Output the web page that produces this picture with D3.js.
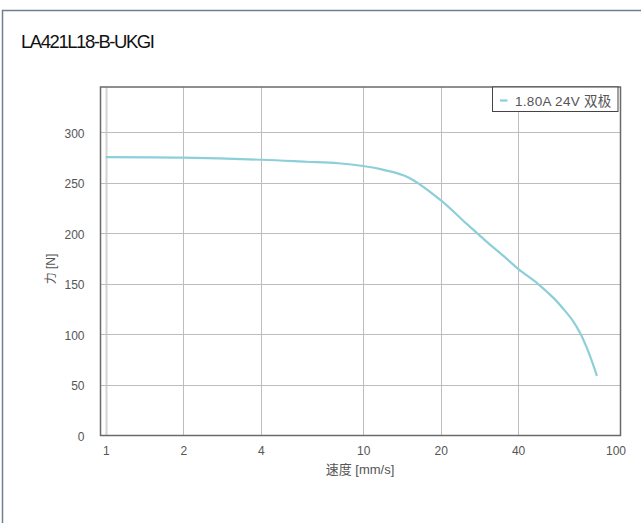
<!DOCTYPE html>
<html>
<head>
<meta charset="utf-8">
<script src="https://cdn.jsdelivr.net/npm/d3@7/dist/d3.min.js"></script>
<style>
  html, body { margin: 0; padding: 0; background: #fff; }
  svg { display: block; font-family: "Liberation Sans", Arial, "Noto Sans CJK SC", sans-serif; }
</style>
</head>
<body>
<svg id="chart" width="641" height="523"></svg>
<script>
const title = "LA421L18-B-UKGI";
const seriesName = "1.80A 24V 双极";
const xLabel = "速度 [mm/s]";
const yLabel = "力 [N]";
const speeds = [1, 2, 4, 6, 8, 10, 12, 15, 20, 25, 30, 35, 40, 48, 55, 60, 65, 70, 75, 81];
const forces = [275.5, 275, 273, 271, 269.5, 266.8, 263, 255.5, 233, 210.5, 192.5, 178, 165, 149.7, 136, 125.3, 114.2, 100.5, 83, 59];
const xTicks = [1, 2, 4, 10, 20, 40, 100];
const yTicks = [0, 50, 100, 150, 200, 250, 300];

const svg = d3.select("#chart");
const L = 100.5, R = 620.5, T = 87, B = 435.5;

// outer frame
svg.append("rect").attr("x", 2.5).attr("y", 10.5).attr("width", 700).attr("height", 700)
  .attr("fill", "none").attr("stroke", "#6f7f8f").attr("stroke-width", 1.5);

svg.append("text").attr("x", 21).attr("y", 48).text(title)
  .attr("font-size", 18.5).attr("letter-spacing", -1.45).attr("fill", "#111");

const x = d3.scaleLog().domain([0.953, 100]).range([L, R]);
const y = d3.scaleLinear().domain([0, 345]).range([B, T]);

const grid = svg.append("g");
grid.selectAll(".vg").data(xTicks.filter(d => d < 100)).join("line")
  .attr("x1", d => Math.round(x(d)) + 0.5).attr("x2", d => Math.round(x(d)) + 0.5)
  .attr("y1", T).attr("y2", B)
  .attr("stroke", d => d === 1 ? "#d4d4d4" : "#bdbdbd").attr("stroke-width", d => d === 1 ? 2 : 1);
grid.selectAll(".hg").data(yTicks.filter(d => d > 0)).join("line")
  .attr("x1", L).attr("x2", R)
  .attr("y1", d => Math.round(y(d)) + 0.5).attr("y2", d => Math.round(y(d)) + 0.5)
  .attr("stroke", "#bdbdbd").attr("stroke-width", 1);

// axes via d3 (labels only)
const xAxis = d3.axisBottom(x).tickValues(xTicks).tickFormat(d3.format("d")).tickSize(0).tickPadding(11);
const gx = svg.append("g").attr("transform", `translate(0,${B})`).call(xAxis);
gx.select(".domain").remove();
gx.selectAll("text").attr("font-size", 12).attr("fill", "#555")
  .attr("font-family", "'Liberation Sans', Arial, sans-serif")
  .attr("dx", d => d === 100 ? -5 : 0);

const yAxis = d3.axisLeft(y).tickValues(yTicks).tickSize(0).tickPadding(16);
const gy = svg.append("g").attr("transform", `translate(${L},0)`).call(yAxis);
gy.select(".domain").remove();
gy.selectAll("text").attr("font-size", 12).attr("fill", "#555")
  .attr("font-family", "'Liberation Sans', Arial, sans-serif").attr("dy", "0.4em");

// plot frame
svg.append("rect").attr("x", L).attr("y", T).attr("width", R - L).attr("height", B - T)
  .attr("fill", "none").attr("stroke", "#6a6a6a").attr("stroke-width", 1.5);

// curve
const pts = speeds.map((s, i) => [s, forces[i]]);
svg.append("path").datum(pts)
  .attr("d", d3.line().x(d => x(d[0])).y(d => y(d[1])).curve(d3.curveCatmullRom.alpha(0.5)))
  .attr("fill", "none").attr("stroke", "#8dcfd9").attr("stroke-width", 2.2);

// legend
const lg = svg.append("g");
lg.append("rect").attr("x", 492.5).attr("y", T).attr("width", 125.5).attr("height", 24.5)
  .attr("fill", "#fff").attr("stroke", "#444").attr("stroke-width", 1);
lg.append("line").attr("x1", 500).attr("x2", 507.5).attr("y1", 100.5).attr("y2", 100.5)
  .attr("stroke", "#8dcfd9").attr("stroke-width", 2.2);
lg.append("text").attr("x", 515).attr("y", 105.5).text(seriesName)
  .attr("font-size", 13.5).attr("letter-spacing", 0.3).attr("fill", "#555");

// axis titles
svg.append("text").attr("x", 360).attr("y", 474).attr("text-anchor", "middle")
  .attr("font-size", 13).attr("fill", "#555").text(xLabel);
svg.append("text").attr("transform", "translate(55,269) rotate(-90)").attr("text-anchor", "middle")
  .attr("font-size", 12).attr("fill", "#555").text(yLabel);
</script>
</body>
</html>
